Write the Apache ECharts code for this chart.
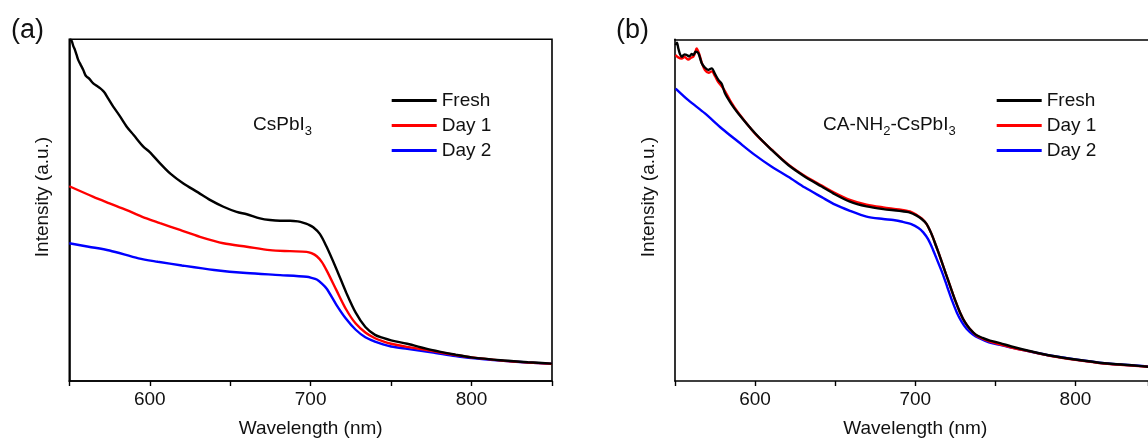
<!DOCTYPE html>
<html>
<head>
<meta charset="utf-8">
<script src="https://cdn.jsdelivr.net/npm/echarts@6/dist/echarts.min.js"></script>
<style>
html,body{margin:0;padding:0;background:#fff;}
#c{width:1148px;height:438px;}
</style>
</head>
<body>
<div id="c"></div>
<script>
// ---------- DATA ----------
const seriesNames = ['Fresh', 'Day 1', 'Day 2'];
const xTickLabels = [600, 700, 800];

// Panel (a) CsPbI3
const waveAFresh = [550.5,551.5,552.5,553.5,554.5,555.6,557,558.7,560,560.8,562.5,564.9,567,569.1,571,572.2,574,577.3,581,585.7,590,596,600,606.4,613,620.9,630,637.4,645.8,654,660.3,668.5,674.7,681,687.2,692,695.6,698.5,701.6,705.8,710,716,722,728,734,740,745,750,760,775,790,800,820,835,850];
const intAFresh  = [100,99.5,98.0,96.9,95.5,93.9,92.6,91.0,89.5,89.1,88.4,87.1,86.4,85.7,84.9,84.2,82.8,80.3,77.8,74.4,72.0,68.6,67.0,63.7,60.6,57.8,55.2,53.0,51.0,49.5,48.8,47.6,47.1,46.9,46.9,46.7,46.3,45.8,45.0,43.0,39.2,32.8,26.0,20.0,15.8,13.5,12.6,11.9,10.9,9.1,7.7,6.9,6.0,5.5,5.1];
const waveADay1  = [550,565,575,585.7,595,606.4,618.8,631.2,645.7,660.3,674.7,687.2,697.5,700.5,703.8,707,710,716,722,728,734,740,745,750,760,775,790,800,820,835,850];
const intADay1   = [57.0,53.9,52.0,50.0,48.1,46.2,44.2,42.2,40.3,39.3,38.3,38.0,37.8,37.4,36.5,34.8,32.3,26.6,21.0,16.8,14.2,12.5,11.6,10.9,10.0,8.8,7.6,6.9,5.9,5.4,5.0];
const waveADay2  = [550,562,575,593,605,620,640,660,681,697.5,700.5,703.8,707,710,716,722,728,734,740,745,750,760,775,790,800,820,835,850];
const intADay2   = [40.3,39.3,38.2,35.9,34.9,33.8,32.5,31.6,31.0,30.5,30.2,29.7,28.5,27.0,22.3,18.2,15.0,12.8,11.5,10.7,10.1,9.4,8.4,7.3,6.7,5.9,5.4,5.0];

// Panel (b) CA-NH2-CsPbI3
const waveBFresh = [550.4,551.2,552.1,553,554.2,556,557.3,559,560.4,561.5,562.9,564.6,566.7,568.5,570.8,572.9,575,577.1,579.2,581.2,585,589.5,600,610.4,620.7,631.1,641.6,648.8,659.2,669.6,680,690,696.7,700.9,704,707,710,713,716,719,722,725,728,731,734,738,742,746.6,752.9,760,772,785,800,818,835,850];
const intBFresh  = [98.3,99.0,97.3,95.8,94.9,95.6,95.4,95.0,95.7,95.4,96.4,95.9,93.0,91.8,91.0,91.5,89.8,88.1,86.9,84.2,81.2,78.3,72.5,67.6,63.2,59.8,56.9,54.9,52.5,51.1,50.3,49.8,49.3,48.4,47.4,46.0,43.2,39.5,35.6,31.5,27.5,23.5,20.0,17.2,15.3,13.5,12.6,11.8,11.1,10.1,8.7,7.4,6.3,5.2,4.6,4.0];
const waveBDay1  = [550.4,552,554.2,556,558.3,560,561.4,562.5,563.5,565,566.8,568.7,571,573,575,577,579,581,585,589.5,600,610.4,620.7,631.1,641.6,648.8,659.2,669.6,680,690,696.7,700.9,704,707,710,713,716,719,722,725,728,731,734,738,742,746.6,752.9,760,772,785,800,818,835,850];
const intBDay1   = [95.4,94.7,94.4,94.8,94.1,94.6,94.9,96.0,97.3,95.9,93.0,91.0,90.2,90.6,89.2,87.5,86.3,85.0,81.6,78.5,72.4,67.7,63.4,60.0,57.2,55.3,53.0,51.6,50.8,50.2,49.6,48.6,47.6,46.0,43.2,39.5,35.6,31.5,27.5,23.5,20.0,17.2,15.3,13.4,12.4,11.5,10.7,9.8,8.6,7.3,6.2,5.1,4.5,4.0];
const waveBDay2  = [550.4,558.3,568.7,579.2,589.5,600,610.4,620.7,631.1,641.6,650,659.2,669.6,680,686.3,692,697.5,702,705,708,711,714,717,720,723,726,729,732,736,740,746,752.9,760,772,785,800,818,835,850];
const intBDay2   = [85.6,82.2,78.3,73.9,70.0,66.1,62.7,59.8,56.6,53.8,51.6,49.8,48.1,47.4,47.1,46.6,45.9,44.8,43.5,41.5,38.5,35.0,31.5,27.5,23.5,20.0,17.3,15.3,13.6,12.5,11.3,10.6,9.8,8.6,7.4,6.3,5.2,4.6,4.1];

// ---------- CHART ----------
const zip = (w, v) => w.map((x, i) => [x, v[i]]);
const colors = ['#000000', '#ff0000', '#0000ff'];
const FONT = '"Liberation Sans", Arial, sans-serif';
const TXT = '#111';

// panel (b) is cropped at the right edge of the figure
const xMaxA = 850;
const xMaxB = 845.3;

const grids = [
  { left: 69.3, top: 39.3, width: 482.7, height: 341.7, show: true, borderColor: '#000', borderWidth: 1.6, outerBoundsMode: 'none', containLabel: false },
  { left: 675, top: 39.3, width: 473, height: 341.7, show: false, outerBoundsMode: 'none', containLabel: false }
];

function xAxisFor(g, max, nameShift) {
  return {
    gridIndex: g, type: 'value', min: 550, max: max, interval: 50,
    axisLine: { show: true, onZero: false, lineStyle: { color: '#000', width: 1.6 } },
    axisTick: { show: true, inside: false, length: 5, lineStyle: { color: '#000', width: 1.4 } },
    axisLabel: {
      margin: 9, fontSize: 19, fontFamily: FONT, color: TXT,
      showMinLabel: true, showMaxLabel: true,
      formatter: v => (xTickLabels.indexOf(v) >= 0 ? String(v) : '')
    },
    splitLine: { show: false },
    name: 'Wavelength (nm)', nameLocation: 'middle', nameGap: 38,
    nameTextStyle: { fontSize: 19, fontFamily: FONT, color: TXT, padding: [0, 0, 0, nameShift] }
  };
}
function topAxisFor(g, max) {
  return {
    gridIndex: g, type: 'value', min: 550, max: max, position: 'top',
    axisLine: { show: true, onZero: false, lineStyle: { color: '#000', width: 1.6 } },
    axisTick: { show: false }, axisLabel: { show: false }, splitLine: { show: false }
  };
}
function yAxisFor(g) {
  return {
    gridIndex: g, type: 'value', min: 0, max: 100,
    axisLine: { show: true, onZero: false, lineStyle: { color: '#000', width: 1.6 } },
    axisTick: { show: false }, axisLabel: { show: false }, splitLine: { show: false }
  };
}
function lineSeries(name, g, data, ci) {
  return {
    name: name, type: 'line', xAxisIndex: g, yAxisIndex: g,
    data: data, showSymbol: false, symbol: 'none', smooth: 0.3,
    itemStyle: { color: colors[ci] },
    lineStyle: { color: colors[ci], width: 2.4 },
    emphasis: { disabled: true }, animation: false, z: 3 - ci
  };
}
function legendFor(left) {
  return {
    data: seriesNames, orient: 'vertical', left: left, top: 91, padding: 0,
    icon: 'rect', itemWidth: 45, itemHeight: 3, itemGap: 6,
    selectedMode: false,
    textStyle: { fontSize: 19, fontFamily: FONT, color: TXT }
  };
}

const chart = echarts.init(document.getElementById('c'), null, { renderer: 'canvas' });
chart.setOption({
  backgroundColor: '#fff',
  animation: false,
  grid: grids,
  xAxis: [xAxisFor(0, xMaxA, 0), xAxisFor(1, xMaxB, 7.6), topAxisFor(1, xMaxB)],
  yAxis: [yAxisFor(0), yAxisFor(1)],
  legend: [legendFor(391.7), legendFor(996.7)],
  series: [
    lineSeries('Fresh', 0, zip(waveAFresh, intAFresh), 0),
    lineSeries('Day 1', 0, zip(waveADay1, intADay1), 1),
    lineSeries('Day 2', 0, zip(waveADay2, intADay2), 2),
    lineSeries('Fresh', 1, zip(waveBFresh, intBFresh), 0),
    lineSeries('Day 1', 1, zip(waveBDay1, intBDay1), 1),
    lineSeries('Day 2', 1, zip(waveBDay2, intBDay2), 2)
  ],
  graphic: [
    { type: 'text', x: 11, y: 31, style: { text: '(a)', font: '27px ' + FONT, fill: TXT, verticalAlign: 'middle' } },
    { type: 'text', x: 616, y: 31, style: { text: '(b)', font: '27px ' + FONT, fill: TXT, verticalAlign: 'middle' } },
    { type: 'text', x: 43, y: 197, rotation: Math.PI / 2,
      style: { text: 'Intensity (a.u.)', font: '19px ' + FONT, fill: TXT, align: 'center', verticalAlign: 'middle' } },
    { type: 'text', x: 649, y: 197, rotation: Math.PI / 2,
      style: { text: 'Intensity (a.u.)', font: '19px ' + FONT, fill: TXT, align: 'center', verticalAlign: 'middle' } },
    { type: 'text', x: 253, y: 125,
      style: { text: '{m|CsPbI}{s|3}', fill: TXT, verticalAlign: 'middle',
        rich: { m: { fontSize: 19, fontFamily: FONT, lineHeight: 26, color: TXT },
                s: { fontSize: 13, fontFamily: FONT, lineHeight: 8, verticalAlign: 'bottom', color: TXT } } } },
    { type: 'text', x: 823, y: 125,
      style: { text: '{m|CA-NH}{s|2}{m|-CsPbI}{s|3}', fill: TXT, verticalAlign: 'middle',
        rich: { m: { fontSize: 19, fontFamily: FONT, lineHeight: 26, color: TXT },
                s: { fontSize: 13, fontFamily: FONT, lineHeight: 8, verticalAlign: 'bottom', color: TXT } } } }
  ]
});
</script>
</body>
</html>
